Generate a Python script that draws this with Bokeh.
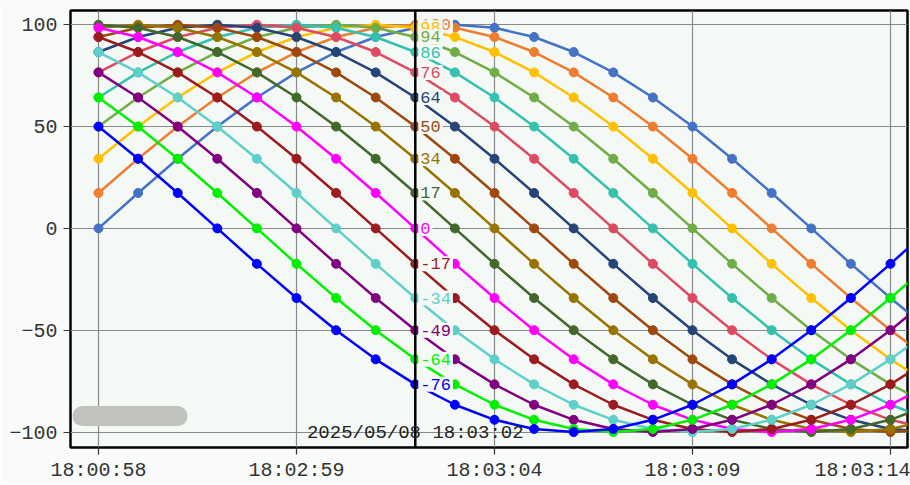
from bokeh.plotting import figure
from bokeh.models import FixedTicker, Span, Label, BoxAnnotation, Range1d
from bokeh.embed import file_html
from bokeh.resources import INLINE

# ---- data ----
idx = [0, 1, 2, 3, 4, 5, 6, 7, 8, 9, 10, 11, 12, 13, 14, 15, 16, 17, 18, 19, 20, 21]

s00 = [0, 17.4, 34.2, 50, 64.3, 76.6, 86.6, 94, 98.5, 100, 98.5, 94, 86.6, 76.6, 64.3, 50, 34.2, 17.4, 0, -17.4, -34.2, -50]
s01 = [17.4, 34.2, 50, 64.3, 76.6, 86.6, 94, 98.5, 100, 98.5, 94, 86.6, 76.6, 64.3, 50, 34.2, 17.4, 0, -17.4, -34.2, -50, -64.3]
s02 = [34.2, 50, 64.3, 76.6, 86.6, 94, 98.5, 100, 98.5, 94, 86.6, 76.6, 64.3, 50, 34.2, 17.4, 0, -17.4, -34.2, -50, -64.3, -76.6]
s03 = [50, 64.3, 76.6, 86.6, 94, 98.5, 100, 98.5, 94, 86.6, 76.6, 64.3, 50, 34.2, 17.4, 0, -17.4, -34.2, -50, -64.3, -76.6, -86.6]
s04 = [64.3, 76.6, 86.6, 94, 98.5, 100, 98.5, 94, 86.6, 76.6, 64.3, 50, 34.2, 17.4, 0, -17.4, -34.2, -50, -64.3, -76.6, -86.6, -94]
s05 = [76.6, 86.6, 94, 98.5, 100, 98.5, 94, 86.6, 76.6, 64.3, 50, 34.2, 17.4, 0, -17.4, -34.2, -50, -64.3, -76.6, -86.6, -94, -98.5]
s06 = [86.6, 94, 98.5, 100, 98.5, 94, 86.6, 76.6, 64.3, 50, 34.2, 17.4, 0, -17.4, -34.2, -50, -64.3, -76.6, -86.6, -94, -98.5, -100]
s07 = [94, 98.5, 100, 98.5, 94, 86.6, 76.6, 64.3, 50, 34.2, 17.4, 0, -17.4, -34.2, -50, -64.3, -76.6, -86.6, -94, -98.5, -100, -98.5]
s08 = [98.5, 100, 98.5, 94, 86.6, 76.6, 64.3, 50, 34.2, 17.4, 0, -17.4, -34.2, -50, -64.3, -76.6, -86.6, -94, -98.5, -100, -98.5, -94]
s09 = [100, 98.5, 94, 86.6, 76.6, 64.3, 50, 34.2, 17.4, 0, -17.4, -34.2, -50, -64.3, -76.6, -86.6, -94, -98.5, -100, -98.5, -94, -86.6]
s10 = [98.5, 94, 86.6, 76.6, 64.3, 50, 34.2, 17.4, 0, -17.4, -34.2, -50, -64.3, -76.6, -86.6, -94, -98.5, -100, -98.5, -94, -86.6, -76.6]
s11 = [94, 86.6, 76.6, 64.3, 50, 34.2, 17.4, 0, -17.4, -34.2, -50, -64.3, -76.6, -86.6, -94, -98.5, -100, -98.5, -94, -86.6, -76.6, -64.3]
s12 = [86.6, 76.6, 64.3, 50, 34.2, 17.4, 0, -17.4, -34.2, -50, -64.3, -76.6, -86.6, -94, -98.5, -100, -98.5, -94, -86.6, -76.6, -64.3, -50]
s13 = [76.6, 64.3, 50, 34.2, 17.4, 0, -17.4, -34.2, -50, -64.3, -76.6, -86.6, -94, -98.5, -100, -98.5, -94, -86.6, -76.6, -64.3, -50, -34.2]
s14 = [64.3, 50, 34.2, 17.4, 0, -17.4, -34.2, -50, -64.3, -76.6, -86.6, -94, -98.5, -100, -98.5, -94, -86.6, -76.6, -64.3, -50, -34.2, -17.4]
s15 = [50, 34.2, 17.4, 0, -17.4, -34.2, -50, -64.3, -76.6, -86.6, -94, -98.5, -100, -98.5, -94, -86.6, -76.6, -64.3, -50, -34.2, -17.4, 0]

series = [s00, s01, s02, s03, s04, s05, s06, s07, s08, s09, s10, s11, s12, s13, s14, s15]

colors = ["#4472C4", "#ED7D31", "#FFC000", "#70AD47", "#36C0AE", "#DD4B63",
          "#264478", "#9E480E", "#997300", "#43682B", "#FF00FF", "#9C1B1F",
          "#5ECFC9", "#800080", "#00F000", "#0000FF"]

cursor_index = 8
cursor_labels = ["98", "100", "98", "94", "86", "76", "64", "50", "34", "17",
                 "0", "-17", "-34", "-49", "-64", "-76"]
cursor_time = "2025/05/08 18:03:02"

tick_idx = [0, 5, 10, 15, 20]
tick_labels = ["18:00:58", "18:02:59", "18:03:04", "18:03:09", "18:03:14"]
y_ticks = [-100, -50, 0, 50, 100]

# ---- styles ----
FONT = "Liberation Mono"
PLOT_BG = "#f4f9f6"
PAGE_BG = "#f8fbf9"
Y_MIN, Y_MAX = -107.6, 107.0

p = figure(width=910, height=484,
           x_range=Range1d(-0.707, 20.43), y_range=Range1d(Y_MIN, Y_MAX),
           output_backend="svg", toolbar_location=None,
           min_border_left=70, min_border_right=3, min_border_top=10, min_border_bottom=37)

p.background_fill_color = PLOT_BG
p.border_fill_color = PAGE_BG
p.outline_line_color = "black"
p.outline_line_width = 2.5

p.xaxis.ticker = FixedTicker(ticks=tick_idx)
p.xaxis.major_label_overrides = {t: l for t, l in zip(tick_idx, tick_labels)}
p.yaxis.ticker = FixedTicker(ticks=y_ticks)
p.xgrid.ticker = FixedTicker(ticks=tick_idx)
p.ygrid.ticker = FixedTicker(ticks=y_ticks)
for g in (p.xgrid, p.ygrid):
    g.grid_line_color = "#8a8a8a"
    g.grid_line_width = 1.2

for ax in (p.xaxis, p.yaxis):
    ax.axis_line_color = None
    ax.minor_tick_line_color = None
    ax.major_tick_in = 0
    ax.major_tick_out = 7
    ax.major_tick_line_color = "#333333"
    ax.major_tick_line_width = 1.2
    ax.major_label_text_font = FONT
    ax.major_label_text_color = "#333333"
p.xaxis.major_label_text_font_size = "20px"
p.yaxis.major_label_text_font_size = "20px"
p.xaxis.major_label_standoff = 4
p.yaxis.major_label_standoff = 6

# scrollbar decoration
p.add_layout(BoxAnnotation(left=-0.657, right=2.25, bottom=-97.1, top=-87.2,
                           fill_color="#c0c3bd", fill_alpha=1.0, line_color=None,
                           border_radius=10, level="underlay"))

# series
for ys, c in zip(series, colors):
    p.line(idx, ys, line_color=c, line_width=2.5)
    p.scatter(idx, ys, size=9, fill_color=c, line_color=c)

# cursor
p.add_layout(Span(location=cursor_index, dimension="height", line_color="black", line_width=2.5))

for ys, c, t in zip(series, colors, cursor_labels):
    p.add_layout(Label(x=cursor_index, y=ys[cursor_index], x_offset=3, text=t,
                       text_align="left", text_baseline="middle",
                       text_font=FONT, text_font_size="17px", text_color=c,
                       background_fill_color=PLOT_BG, background_fill_alpha=1.0,
                       padding=2))

p.add_layout(Label(x=cursor_index, y=-100.5, text=cursor_time,
                   text_align="center", text_baseline="middle",
                   text_font=FONT, text_font_size="19px", text_color="#222222"))

open("out.html", "w").write(file_html(p, INLINE))
